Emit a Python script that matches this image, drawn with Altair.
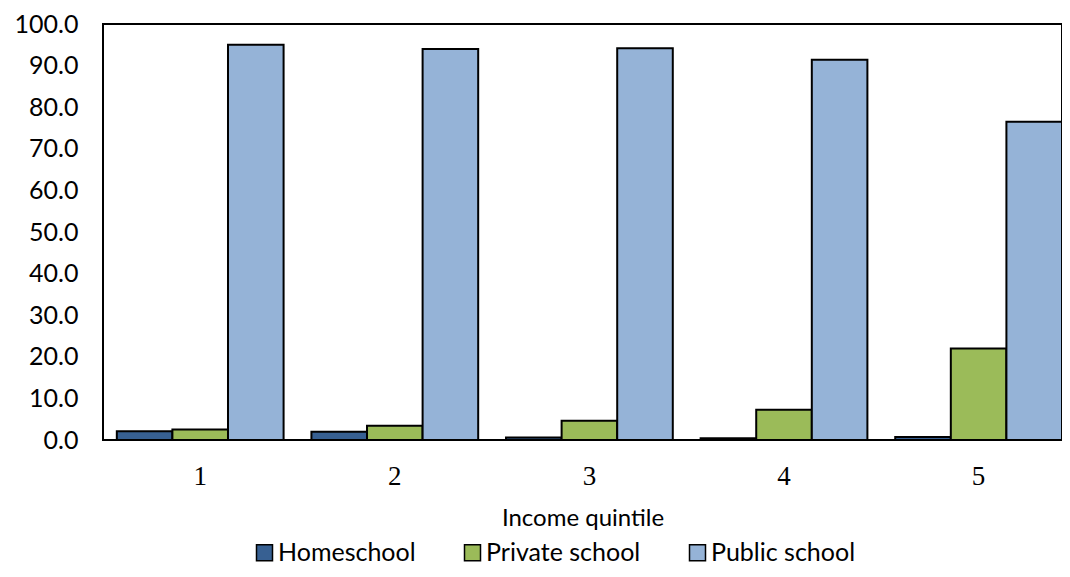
import altair as alt
import pandas as pd

quintiles = ["1", "2", "3", "4", "5"]
series = ["Homeschool", "Private school", "Public school"]
homeschool = [2.1, 2.0, 0.6, 0.4, 0.7]
private_school = [2.5, 3.4, 4.6, 7.3, 22.0]
public_school = [95.0, 94.0, 94.2, 91.4, 76.5]
colors = ["#376092", "#9bbb59", "#95b3d7"]
y_ticks = [0, 10, 20, 30, 40, 50, 60, 70, 80, 90, 100]

rows = []
for s, vals in zip(series, [homeschool, private_school, public_school]):
    for q, v in zip(quintiles, vals):
        rows.append({"quintile": q, "type": s, "value": v})
df = pd.DataFrame(rows)

chart = alt.Chart(df).mark_bar(stroke="black", strokeWidth=2).encode(
    x=alt.X(
        "quintile:N",
        sort=quintiles,
        scale=alt.Scale(paddingInner=0.143, paddingOuter=0.0355, align=1),
        axis=alt.Axis(
            title="Income quintile",
            labelAngle=0,
            labelFont="Liberation Serif",
            labelFontSize=27,
            labelColor="black",
            labelPadding=23,
            ticks=False,
            tickSize=0,
            domain=False,
            titleFont="Lato",
            titleFontSize=24,
            titleFontWeight="normal",
            titleColor="black",
            titlePadding=17,
        ),
    ),
    xOffset=alt.XOffset(
        "type:N", sort=series, scale=alt.Scale(paddingInner=0, paddingOuter=0)
    ),
    y=alt.Y(
        "value:Q",
        scale=alt.Scale(domain=[0, 100], nice=False),
        axis=alt.Axis(
            values=y_ticks,
            format=".1f",
            title=None,
            grid=False,
            ticks=False,
            tickSize=0,
            domain=False,
            labelFont="Lato",
            labelFontSize=25,
            labelColor="black",
            labelPadding=25,
        ),
    ),
    color=alt.Color(
        "type:N",
        sort=series,
        scale=alt.Scale(domain=series, range=colors),
        legend=alt.Legend(
            title=None,
            orient="none",
            legendX=149,
            legendY=516,
            direction="horizontal",
            columns=3,
            symbolType="square",
            symbolSize=256,
            symbolStrokeColor="black",
            symbolStrokeWidth=1.5,
            labelFont="Lato",
            labelFontSize=25,
            labelColor="black",
            labelOffset=1,
            columnPadding=44,
        ),
    ),
).properties(
    width=959,
    height=416,
    autosize=alt.AutoSizeParams(type="none"),
    padding={"left": 95, "top": 16, "right": 0, "bottom": 129},
).configure_view(stroke="black", strokeWidth=2)

chart.save("out.html", embed_options={"renderer": "svg", "actions": False})
